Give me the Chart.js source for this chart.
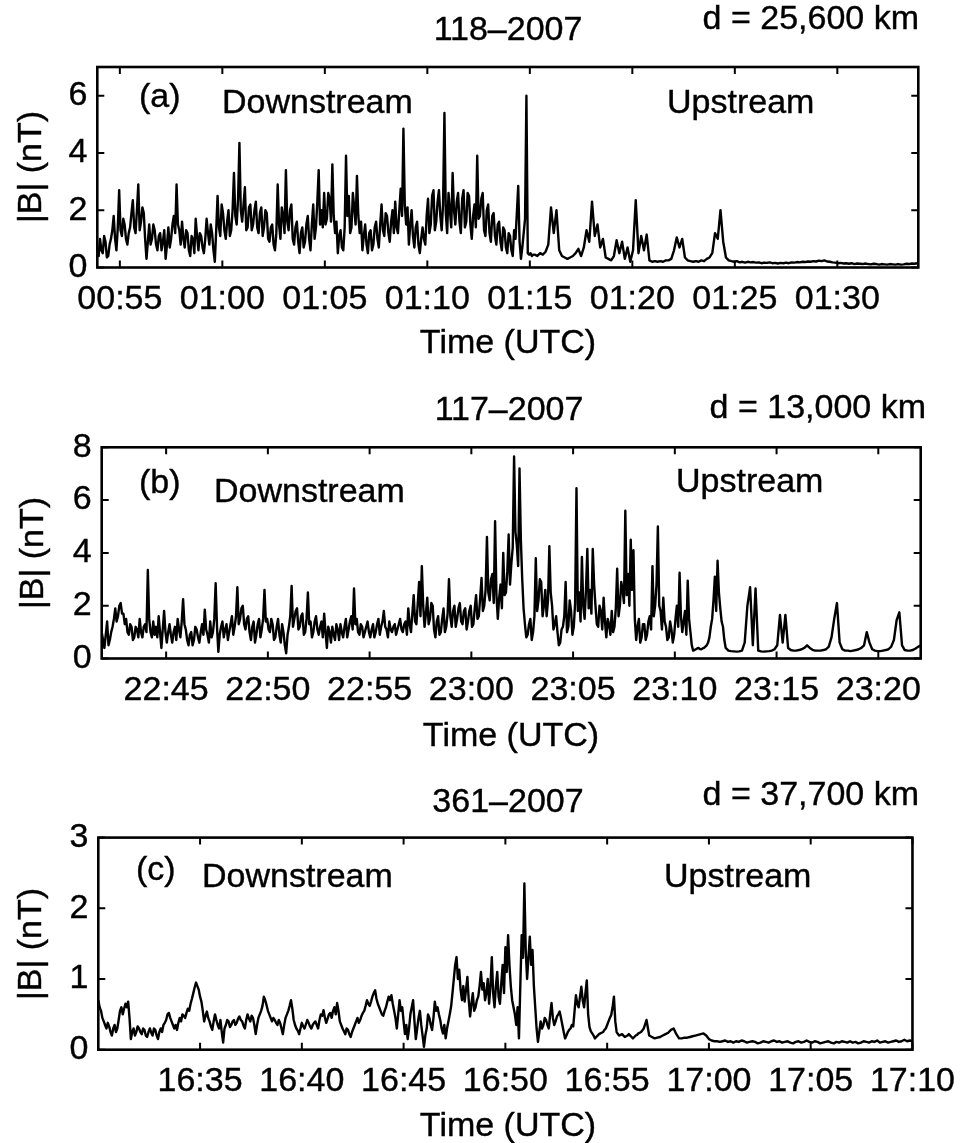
<!DOCTYPE html>
<html lang="en">

<head>
  <meta charset="utf-8">
  <title>|B| upstream / downstream</title>
  <script src="https://cdn.jsdelivr.net/npm/chart.js"></script>
  <style>
    body { margin: 0; background: #fff; }
    .painel { position: absolute; left: 0; }
  </style>
</head>

<body>
  <canvas id="graficoA" class="painel" width="967" height="375" style="top: 0px"></canvas>
  <canvas id="graficoB" class="painel" width="967" height="385" style="top: 375px"></canvas>
  <canvas id="graficoC" class="painel" width="967" height="383" style="top: 760px"></canvas>
</body>

</html>

<script>
  // cada painel tem dois trechos: o turbulento amostrado a cada 4 s
  // e o resto (mais calmo) a cada 8 s
  const passoFino = 4;
  const passoGrosso = 8;

  // ---- (a) 118-2007 ----
  const inicioA = '00:53:54';
  const fimA = '01:33:57';
  const rotulosXA = ['00:55', '01:00', '01:05', '01:10', '01:15', '01:20', '01:25', '01:30'];
  const ticksYA = [0, 2, 4, 6];
  const maxYA = 7;
  const finoA = [
    0.7, 0.4, 1.0, 0.6, 0.5, 1.1, 0.9, 0.35, 0.4, 0.8, 1.0, 1.3, 1.8, 1.0, 0.6, 1.4, 2.7, 1.3, 1.1, 1.7,
    1.5, 1.0, 0.8, 1.2, 1.4, 1.9, 2.35, 1.4, 1.2, 2.0, 2.9, 1.3, 1.6, 2.1, 1.9, 1.0, 0.3, 0.9, 1.5, 0.8,
    1.0, 1.5, 1.3, 0.8, 0.6, 1.1, 1.2, 0.6, 0.9, 1.3, 0.3, 0.8, 1.4, 0.7, 1.0, 1.5, 1.8, 1.2, 2.9, 1.5,
    1.3, 0.8, 1.6, 1.0, 0.7, 1.3, 1.2, 0.6, 0.4, 1.1, 1.0, 0.5, 1.7, 1.1, 0.6, 1.2, 1.1, 0.7, 0.5, 1.0,
    1.7, 1.2, 0.8, 1.5, 1.2, 0.6, 0.2, 1.3, 2.5, 1.4, 1.1, 2.2, 1.9, 1.3, 1.0, 1.6, 2.0, 1.1, 1.3, 2.0,
    3.3, 1.8, 1.5, 2.4, 4.35, 2.0, 1.6, 2.2, 2.8, 1.3, 1.4, 2.1, 2.2, 1.3, 1.5, 2.0, 2.3, 1.4, 1.2, 1.9,
    2.1, 1.1, 1.4, 2.0, 1.9, 1.0, 0.9, 1.4, 1.5, 0.8, 0.6, 1.2, 2.9, 1.5, 1.0, 2.1, 1.8, 1.2, 3.4, 1.6,
    1.3, 2.0, 2.2, 1.0, 0.8, 1.4, 1.6, 0.9, 0.5, 1.2, 1.4, 0.7, 0.9, 1.5, 1.8, 1.0, 0.6, 1.5, 2.2, 1.0,
    1.4, 2.3, 3.4, 1.5, 2.0, 1.4, 2.6, 1.5, 1.7, 2.6, 2.4, 1.6, 3.6, 1.8, 1.2, 1.6, 0.5, 1.1, 1.3, 0.7,
    0.6, 1.4, 3.9, 1.8, 2.5, 1.2, 1.4, 2.6, 2.1, 1.5, 3.2, 1.8, 1.2, 1.6, 0.6, 1.1, 1.5, 0.8, 0.5, 1.2,
    1.3, 0.6, 0.8, 1.4, 1.6, 1.0, 0.7, 1.5, 2.2, 1.3, 1.1, 1.9, 1.8, 1.2, 0.9, 1.6, 2.0, 1.2, 2.3, 1.4,
    1.2, 2.0, 2.75, 1.8, 4.85, 2.2, 1.5, 2.1, 0.8, 1.5, 2.0, 1.1, 0.7, 1.4, 1.6, 0.8, 0.5, 1.0, 1.4, 1.0,
    0.8, 1.8, 2.4, 1.2, 1.5, 2.5, 2.7, 1.3, 1.6, 2.3, 2.7, 1.8, 1.3, 2.2, 5.4, 1.9, 1.2, 2.6, 2.0, 1.4,
    3.3, 2.0, 1.5, 2.3, 2.6, 1.6, 1.2, 2.4, 2.7, 1.4, 1.6, 2.6, 2.5, 1.5, 1.0, 1.8, 2.2, 1.4, 3.9, 1.7,
    1.8, 2.4, 2.6, 1.3, 1.1, 2.0, 2.2, 1.2, 0.9, 1.8, 1.9, 1.1, 0.8, 1.5, 1.6, 0.9, 0.6, 1.4, 1.3, 0.7,
    0.5, 1.2, 1.1, 0.6, 0.4, 1.3, 1.0, 1.9, 2.85, 0.9, 0.3, 0.7, 1.2, 1.7, 6.0, 0.5, 0.45, 0.5, 0.4, 0.45
  ];
  const grossoA = [
    0.45, 0.4, 0.5, 0.45, 0.55, 0.8, 2.1, 1.2, 2.0, 0.6,
    0.4, 0.35, 0.3, 0.35, 0.4, 0.5, 0.65, 0.4, 0.7, 1.3,
    0.9, 2.3, 1.1, 1.5, 0.7, 1.0, 0.35, 0.3, 0.25, 0.4,
    0.95, 0.5, 0.9, 0.3, 0.7, 0.2, 0.6, 2.35, 0.5, 1.1,
    0.6, 1.15, 0.25, 0.2, 0.22, 0.2, 0.22, 0.2, 0.25, 0.25,
    0.3, 0.6, 1.05, 0.7, 1.0, 0.35, 0.25, 0.22, 0.2, 0.22,
    0.2, 0.25, 0.22, 0.3, 0.35, 0.5, 1.2, 1.0, 2.0, 0.9,
    0.35, 0.25, 0.22, 0.2, 0.22, 0.18, 0.2, 0.17, 0.2, 0.18,
    0.19, 0.17, 0.18, 0.15, 0.17, 0.16, 0.18, 0.15, 0.16, 0.14,
    0.16, 0.15, 0.17, 0.15, 0.18, 0.17, 0.19, 0.18, 0.2, 0.19,
    0.21, 0.2, 0.22, 0.21, 0.24, 0.22, 0.25, 0.21, 0.2, 0.18,
    0.17, 0.15, 0.16, 0.14, 0.15, 0.13, 0.15, 0.12, 0.14, 0.13,
    0.12, 0.14, 0.12, 0.11, 0.13, 0.12, 0.1, 0.12, 0.11, 0.1,
    0.12, 0.11, 0.1, 0.12, 0.1, 0.11, 0.13, 0.12, 0.14, 0.13,
    0.15
  ];

  // ---- (b) 117-2007 ----
  const inicioB = '22:41:50';
  const fimB = '23:22:05';
  const rotulosXB = ['22:45', '22:50', '22:55', '23:00', '23:05', '23:10', '23:15', '23:20'];
  const ticksYB = [0, 2, 4, 6, 8];
  const maxYB = 8;
  const finoB = [
    1.0, 0.7, 0.4, 0.9, 1.4, 0.5, 0.7, 1.0, 1.2, 1.5, 1.9, 1.4, 1.6, 2.0, 2.1, 1.7, 1.7, 1.3, 1.5, 1.0,
    0.9, 1.3, 1.2, 0.7, 0.8, 1.2, 1.1, 0.8, 1.5, 1.0, 0.8, 1.2, 1.3, 1.0, 3.35, 1.5, 1.0, 0.8, 1.4, 0.9,
    1.2, 0.8, 1.6, 1.0, 0.4, 1.1, 1.8, 1.0, 0.6, 1.0, 1.3, 0.9, 0.6, 1.0, 1.2, 0.7, 1.5, 1.1, 0.8, 1.4,
    2.25, 1.3, 1.1, 0.7, 0.5, 0.9, 1.0, 0.5, 0.7, 1.2, 1.1, 0.8, 0.6, 1.0, 1.3, 0.9, 1.85, 1.1, 0.9, 0.6,
    1.4, 0.8, 1.0, 1.5, 2.85, 1.2, 0.25, 0.9, 1.2, 1.4, 0.8, 1.1, 1.3, 0.7, 1.0, 1.3, 1.6, 0.9, 1.2, 1.6,
    2.7, 1.3, 1.5, 1.9, 2.0, 1.3, 1.1, 1.5, 1.6, 1.0, 0.7, 1.2, 1.4, 0.6, 0.9, 1.3, 1.5, 0.8, 1.1, 1.5,
    2.6, 1.4, 1.5, 1.1, 1.0, 1.5, 1.3, 0.7, 0.8, 1.2, 1.5, 0.9, 0.6, 1.3, 1.0, 0.5, 0.2, 0.9, 1.2, 1.6,
    2.75, 1.2, 1.5, 1.8, 1.9, 1.1, 1.2, 1.6, 1.7, 0.9, 1.0, 1.5, 2.5, 1.3, 1.4, 0.8, 1.0, 1.4, 1.6, 1.1,
    0.9, 1.2, 1.4, 0.8, 1.7, 1.0, 0.4, 1.2, 1.0, 0.6, 1.2, 0.9, 0.7, 1.3, 1.1, 0.7, 1.3, 1.0, 0.8, 1.2,
    1.5, 0.8, 1.1, 1.4, 1.6, 1.1, 2.65, 1.3, 1.5, 1.0, 0.9, 1.3, 1.2, 0.8, 1.0, 1.2, 1.4, 1.0, 0.8, 1.1,
    1.3, 0.8, 1.0, 1.3, 1.5, 0.9, 1.2, 1.4, 1.8, 1.2, 1.1, 0.8, 1.4, 1.1, 1.0, 1.2, 1.3, 0.9, 1.1, 1.3,
    1.5, 1.1, 1.0, 1.3, 1.4, 0.9, 1.9, 1.3, 1.0, 1.7, 2.4, 1.4, 1.3, 2.1, 2.9, 1.6, 3.5, 2.0, 1.2, 1.7,
    2.3, 1.3, 1.5, 2.1, 2.0, 1.1, 0.8, 1.4, 1.6, 0.9, 1.0, 1.5, 1.9, 1.0, 1.2, 1.7, 3.0, 1.6, 1.2, 1.8,
    2.0, 1.2, 1.5, 1.9, 2.1, 1.4, 1.3, 1.8, 1.9, 1.1, 1.4, 1.8, 2.0, 1.2, 1.3, 1.9, 2.4, 1.5, 1.6, 2.3,
    3.05, 1.8, 2.0, 2.6, 4.6, 2.5, 2.2, 3.0, 3.2, 2.1, 5.2, 2.4, 1.5, 2.3, 2.8, 1.9, 4.0, 2.4, 2.5, 3.3,
    4.7, 2.8, 3.6, 4.2, 7.65, 4.8, 4.3, 3.5, 7.2, 4.5, 3.0, 1.9, 1.3, 0.8, 0.9, 1.3, 1.5, 0.7, 1.0, 1.6,
    3.8, 1.8, 2.2, 3.0, 2.9, 1.6, 2.0, 2.6, 1.6, 2.2, 4.25, 2.5, 2.0, 1.1, 1.3, 1.6, 1.0, 0.5, 0.6, 1.1,
    1.2, 1.6, 2.9, 1.0, 1.2, 2.2, 1.8, 0.9, 1.2, 2.1, 6.45, 1.8, 2.5, 1.4, 3.85, 2.0, 1.5, 2.6, 4.15, 1.9,
    2.6, 1.7, 4.15, 2.8, 2.0, 1.3, 1.2, 2.0, 1.8, 1.1, 2.3, 1.4, 0.8, 1.5, 1.3, 0.9, 1.8, 1.0, 1.2, 1.9,
    3.4, 1.6, 2.0, 2.9, 2.6, 2.1, 5.6, 2.4, 3.2, 2.0, 4.5, 2.6, 4.1, 1.5, 0.7, 1.2, 1.5, 0.6, 0.8, 1.3,
    1.3, 0.7, 0.9, 1.4, 1.6, 1.1, 3.5, 1.6, 2.0, 2.8, 5.0, 2.0, 1.8, 1.1, 2.3, 1.4, 1.2, 0.7, 0.8, 1.4,
    1.1, 0.6, 0.9, 1.5, 2.0, 1.2, 3.25, 1.6, 1.0, 1.4, 1.8, 0.9, 2.95, 1.5, 1.0, 0.5, 0.3, 0.32, 0.35, 0.38,
    0.4, 0.36, 0.35, 0.38, 0.4, 0.45, 0.5, 0.6, 0.8, 1.2, 1.5, 2.2, 3.1, 1.8, 3.7, 2.5, 1.9, 1.4, 1.2, 0.7
  ];
  const grossoB = [
    0.4, 0.3, 0.28, 0.27, 0.26, 0.27, 0.3, 0.6, 2.0, 2.7,
    0.5, 2.65, 0.3, 0.27, 0.26, 0.27, 0.28, 0.3, 0.35, 0.5,
    1.65, 0.6, 1.65, 0.4, 0.32, 0.3, 0.3, 0.32, 0.35, 0.4,
    0.5, 0.4, 0.33, 0.3, 0.3, 0.3, 0.32, 0.35, 0.45, 0.8,
    1.5, 2.1, 0.6, 0.35, 0.3, 0.3, 0.28, 0.3, 0.32, 0.35,
    0.4, 0.5, 1.0, 0.6, 0.35, 0.3, 0.28, 0.28, 0.3, 0.32,
    0.35, 0.45, 0.7, 1.45, 1.75, 0.5, 0.32, 0.3, 0.3, 0.32,
    0.38, 0.45, 0.5
  ];

  // ---- (c) 361-2007 ----
  const inicioC = '16:30:00';
  const fimC = '17:10:00';
  const rotulosXC = ['16:35', '16:40', '16:45', '16:50', '16:55', '17:00', '17:05', '17:10'];
  const ticksYC = [0, 1, 2, 3];
  const maxYC = 3;
  const finoC = [
    0.7, 0.6, 0.55, 0.45, 0.4, 0.35, 0.3, 0.38, 0.33, 0.25, 0.2, 0.3, 0.35, 0.25, 0.3, 0.42, 0.55, 0.6, 0.5, 0.58,
    0.65, 0.6, 0.68, 0.45, 0.15, 0.25, 0.3, 0.2, 0.25, 0.33, 0.3, 0.25, 0.22, 0.3, 0.28, 0.2, 0.18, 0.25, 0.3, 0.24,
    0.2, 0.3, 0.28, 0.2, 0.15, 0.25, 0.3, 0.25, 0.35, 0.38, 0.42, 0.5, 0.52, 0.45, 0.4, 0.35, 0.3, 0.35, 0.28, 0.38,
    0.45, 0.4, 0.5, 0.48, 0.45, 0.52, 0.58, 0.55, 0.65, 0.72, 0.8, 0.88, 0.95, 0.9, 0.85, 0.75, 0.68, 0.55, 0.4, 0.48,
    0.54, 0.45, 0.4, 0.33, 0.28, 0.4, 0.5, 0.42, 0.35, 0.3, 0.42, 0.25, 0.1, 0.3, 0.35, 0.42, 0.4, 0.32, 0.35, 0.4,
    0.42, 0.35, 0.38, 0.44, 0.47, 0.42, 0.4, 0.34, 0.3, 0.42, 0.5, 0.44, 0.4, 0.48, 0.45, 0.35, 0.22, 0.35, 0.45, 0.5,
    0.55, 0.62, 0.75, 0.7, 0.63, 0.55, 0.5, 0.45, 0.4, 0.45, 0.42, 0.38, 0.35, 0.42, 0.38, 0.3, 0.22, 0.35, 0.45, 0.5,
    0.55, 0.62, 0.7, 0.58, 0.42, 0.35, 0.3, 0.27, 0.22, 0.3, 0.38, 0.33, 0.3, 0.36, 0.42, 0.38, 0.33, 0.3, 0.35, 0.38,
    0.4, 0.35, 0.3, 0.42, 0.5, 0.48, 0.56, 0.45, 0.38, 0.44, 0.5, 0.52, 0.45, 0.55, 0.6, 0.5, 0.66, 0.55, 0.4, 0.35,
    0.3, 0.26, 0.22, 0.3, 0.28, 0.22, 0.18, 0.25, 0.3, 0.35, 0.4, 0.45, 0.38, 0.42, 0.48, 0.52, 0.55, 0.62, 0.7, 0.65,
    0.62, 0.68, 0.75, 0.8, 0.84, 0.72, 0.65, 0.6, 0.55, 0.5, 0.48, 0.55, 0.6, 0.68, 0.75, 0.7, 0.77, 0.65, 0.55, 0.45,
    0.3, 0.5, 0.7, 0.55, 0.6, 0.4, 0.22, 0.35, 0.15, 0.3, 0.5, 0.6, 0.7, 0.4, 0.15, 0.3, 0.45, 0.55, 0.35, 0.2,
    0.04, 0.2, 0.3, 0.5, 0.45, 0.35, 0.28, 0.45, 0.68, 0.55, 0.6, 0.5, 0.42, 0.3, 0.23, 0.35, 0.16, 0.3, 0.4, 0.5,
    0.61, 0.8, 1.0, 1.2, 1.31, 1.0, 1.13, 0.85, 0.7, 0.9, 0.68, 0.85, 1.03, 0.7, 0.47, 0.65, 0.8, 0.55, 0.6, 0.7,
    0.75, 0.9, 1.1, 0.85, 0.94, 0.7, 0.8, 1.0, 0.65, 0.9, 1.31, 0.8, 0.6, 0.9, 1.1, 0.75, 0.65, 0.95, 1.2, 0.8,
    1.45, 1.1, 1.62, 1.2, 0.9, 0.7, 0.6, 0.5, 0.35, 0.6, 0.16, 0.9, 1.62, 1.3, 2.35, 1.4, 1.0, 1.3, 1.6, 1.2,
    1.41, 0.9, 0.6, 0.3, 0.11, 0.25, 0.4, 0.3, 0.35, 0.45, 0.42, 0.35, 0.3, 0.5, 0.66, 0.45, 0.35, 0.4, 0.47, 0.5,
    0.54, 0.45, 0.35, 0.25, 0.16, 0.2, 0.25, 0.28, 0.3, 0.35, 0.33, 0.55, 0.77, 0.65, 0.6, 0.75, 0.89, 0.7, 0.6, 0.8,
    0.98, 0.5, 0.32, 0.26, 0.23, 0.2, 0.16, 0.18, 0.2, 0.22, 0.23, 0.24, 0.25, 0.28, 0.3, 0.35, 0.4, 0.45, 0.49, 0.6,
    0.75, 0.4, 0.25, 0.22, 0.2, 0.21, 0.22, 0.2, 0.18, 0.19, 0.2, 0.22, 0.2, 0.18, 0.16, 0.18, 0.2, 0.21, 0.23, 0.24
  ];
  const grossoC = [
    0.25, 0.3, 0.42, 0.2, 0.18, 0.16, 0.17, 0.18, 0.2, 0.22,
    0.24, 0.28, 0.3, 0.22, 0.16, 0.16, 0.17, 0.17, 0.18, 0.19,
    0.2, 0.21, 0.22, 0.23, 0.2, 0.15, 0.13, 0.12,
    0.12, 0.11, 0.12, 0.13, 0.11, 0.12, 0.1, 0.12, 0.11, 0.13,
    0.12, 0.1, 0.11, 0.12, 0.11, 0.09, 0.1, 0.12, 0.11, 0.1,
    0.12, 0.13, 0.11, 0.12, 0.1, 0.11, 0.12, 0.1, 0.09, 0.11,
    0.12, 0.1, 0.11, 0.13, 0.11, 0.1, 0.12, 0.11, 0.09, 0.1,
    0.11, 0.12, 0.1, 0.09, 0.11, 0.1, 0.12, 0.11, 0.1, 0.12,
    0.1, 0.11, 0.09, 0.1, 0.12, 0.11, 0.1, 0.12, 0.11, 0.13,
    0.1, 0.11, 0.12, 0.1, 0.11, 0.12, 0.13, 0.11, 0.12, 0.14,
    0.12, 0.13, 0.12
  ];

  const familia = '"Liberation Sans", Arial, Helvetica, sans-serif';
  const tamanho = 34;
  const fonte = { family: familia, size: tamanho };
  // contorno fino para engrossar um pouco as letras
  const contorno = 0.4;

  // 'HH:MM' ou 'HH:MM:SS' -> minutos do dia
  function emMinutos(hora) {
    const p = hora.split(':').map(Number);
    return p[0] * 60 + p[1] + (p[2] || 0) / 60;
  }

  // moldura com marcas internas nos quatro lados + textos soltos do painel
  function criarMoldura(painel) {
    return {
      id: 'moldura',
      afterDraw: function (chart) {
        const ctx = chart.ctx;
        const a = chart.chartArea;
        const x = chart.scales.x;
        const y = chart.scales.y;
        ctx.save();
        ctx.strokeStyle = '#000';
        ctx.lineWidth = 2.6;
        ctx.strokeRect(a.left, a.top, a.right - a.left, a.bottom - a.top);

        ctx.lineWidth = 2;
        ctx.beginPath();
        x.ticks.forEach(function (t) {
          const px = x.getPixelForValue(t.value);
          ctx.moveTo(px, a.bottom);
          ctx.lineTo(px, a.bottom - 7);
          ctx.moveTo(px, a.top);
          ctx.lineTo(px, a.top + 7);
        });
        y.ticks.forEach(function (t) {
          const py = y.getPixelForValue(t.value);
          ctx.moveTo(a.left, py);
          ctx.lineTo(a.left + 7, py);
          ctx.moveTo(a.right, py);
          ctx.lineTo(a.right - 7, py);
        });
        ctx.stroke();

        ctx.fillStyle = '#000';
        ctx.lineWidth = contorno;
        ctx.font = tamanho + 'px ' + familia;
        ctx.textBaseline = 'alphabetic';
        painel.textos.forEach(function (t) {
          ctx.textAlign = t.alinha || 'left';
          ctx.fillText(t.texto, t.x, t.y);
          ctx.strokeText(t.texto, t.x, t.y);
        });

        // titulo do eixo y, na vertical
        ctx.translate(painel.eixoY[0], painel.eixoY[1]);
        ctx.rotate(-Math.PI / 2);
        ctx.textAlign = 'center';
        ctx.textBaseline = 'middle';
        ctx.fillText('|B| (nT)', 0, 0);
        ctx.strokeText('|B| (nT)', 0, 0);
        ctx.restore();
      }
    };
  }

  function montarGrafico(idCanvas, painel) {
    const canvas = document.getElementById(idCanvas);
    const inicio = emMinutos(painel.inicio);
    const marcasX = painel.rotulosX.map(emMinutos);

    // junta os dois trechos numa serie so
    const pontos = [];
    for (var i = 0; i < painel.fino.length; i++) {
      pontos.push({ x: inicio + i * passoFino / 60, y: painel.fino[i] });
    }
    const inicioGrosso = inicio + painel.fino.length * passoFino / 60;
    for (var k = 0; k < painel.grosso.length; k++) {
      pontos.push({ x: inicioGrosso + k * passoGrosso / 60, y: painel.grosso[k] });
    }

    new Chart(canvas, {
      type: 'line',
      data: {
        datasets: [{
          data: pontos,
          borderColor: '#000',
          borderWidth: 2.4,
          borderJoinStyle: 'round',
          pointRadius: 0,
          tension: 0,
          fill: false
        }]
      },
      options: {
        responsive: false,
        animation: false,
        events: [],
        layout: {
          padding: { top: painel.area.topo, right: canvas.width - painel.area.direita, bottom: 0, left: 0 }
        },
        plugins: {
          legend: { display: false },
          tooltip: { enabled: false }
        },
        scales: {
          x: {
            type: 'linear',
            min: inicio,
            max: emMinutos(painel.fim),
            grid: { display: false, drawTicks: false },
            border: { display: false },
            afterBuildTicks: function (escala) {
              escala.ticks = marcasX.map(function (v) { return { value: v }; });
            },
            afterFit: function (escala) {
              escala.height = canvas.height - painel.area.base;
            },
            ticks: {
              autoSkip: false,
              maxRotation: 0,
              padding: 12,
              color: '#000',
              font: fonte,
              textStrokeColor: '#000',
              textStrokeWidth: contorno,
              callback: function (valor, indice) { return painel.rotulosX[indice]; }
            }
          },
          y: {
            min: 0,
            max: painel.maxY,
            grid: { display: false, drawTicks: false },
            border: { display: false },
            afterBuildTicks: function (escala) {
              escala.ticks = painel.ticksY.map(function (v) { return { value: v }; });
            },
            afterFit: function (escala) {
              escala.width = painel.area.esquerda;
            },
            ticks: { padding: 10, color: '#000', font: fonte, textStrokeColor: '#000', textStrokeWidth: contorno }
          }
        }
      },
      plugins: [criarMoldura(painel)]
    });
  }

  montarGrafico('graficoA', {
    inicio: inicioA, fim: fimA, fino: finoA, grosso: grossoA,
    rotulosX: rotulosXA, ticksY: ticksYA, maxY: maxYA,
    area: { topo: 67, base: 267.5, esquerda: 97.3, direita: 918.3 },
    eixoY: [32, 167],
    textos: [
      { texto: '118\u20132007', x: 508, y: 40, alinha: 'center' },
      { texto: 'd = 25,600 km', x: 919, y: 29, alinha: 'right' },
      { texto: '(a)', x: 139, y: 107 },
      { texto: 'Downstream', x: 222, y: 113 },
      { texto: 'Upstream', x: 667, y: 113 },
      { texto: 'Time (UTC)', x: 508, y: 353, alinha: 'center' }
    ]
  });

  montarGrafico('graficoB', {
    inicio: inicioB, fim: fimB, fino: finoB, grosso: grossoB,
    rotulosX: rotulosXB, ticksY: ticksYB, maxY: maxYB,
    area: { topo: 72.3, base: 283.5, esquerda: 101.7, direita: 920.7 },
    eixoY: [34, 178],
    textos: [
      { texto: '117\u20132007', x: 509, y: 45, alinha: 'center' },
      { texto: 'd = 13,000 km', x: 926, y: 43, alinha: 'right' },
      { texto: '(b)', x: 139, y: 118 },
      { texto: 'Downstream', x: 214, y: 127 },
      { texto: 'Upstream', x: 676, y: 117 },
      { texto: 'Time (UTC)', x: 511, y: 371, alinha: 'center' }
    ]
  });

  montarGrafico('graficoC', {
    inicio: inicioC, fim: fimC, fino: finoC, grosso: grossoC,
    rotulosX: rotulosXC, ticksY: ticksYC, maxY: maxYC,
    area: { topo: 77.6, base: 289.7, esquerda: 98.3, direita: 918.3 },
    eixoY: [32, 184],
    textos: [
      { texto: '361\u20132007', x: 508, y: 52, alinha: 'center' },
      { texto: 'd = 37,700 km', x: 919, y: 45, alinha: 'right' },
      { texto: '(c)', x: 136, y: 120 },
      { texto: 'Downstream', x: 202, y: 127 },
      { texto: 'Upstream', x: 664, y: 127 },
      { texto: 'Time (UTC)', x: 508, y: 376, alinha: 'center' }
    ]
  });
</script>
